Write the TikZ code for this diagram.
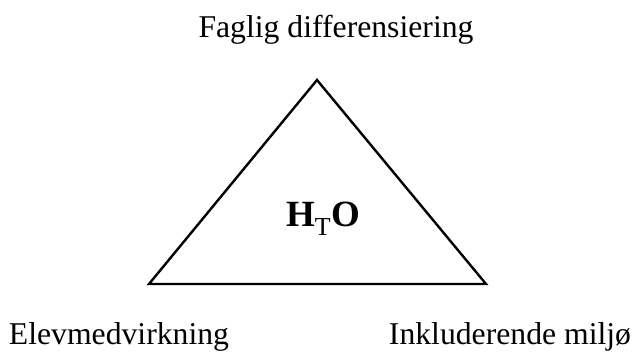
\documentclass[tikz,border=0pt]{standalone}
\usepackage{fontspec}
\setmainfont{Liberation Serif}
\usetikzlibrary{positioning}
\tikzset{
    cornerlabel/.style={inner sep=0pt, anchor=base, font=\fontsize{31.7}{36}\selectfont},
    centrelabel/.style={inner sep=0pt, anchor=base, font=\fontsize{37}{42}\selectfont},
    edge/.style={line width=2.4pt, line join=miter}
}
\begin{document}
\begin{tikzpicture}[x=1pt, y=1pt, node distance=1cm]
  \useasboundingbox (0,0) rectangle (636,352);
  \coordinate(T) at (317,272);
  \coordinate(L) at (149,68);
  \coordinate(R) at (486,68);
  \node(Top)[cornerlabel] at (336,314){Faglig differensiering};
  \node(Left)[cornerlabel] at (119,7){Elevmedvirkning};
  \node(Right)[cornerlabel] at (510,7){Inkluderende milj\o};
  \node(Mid)[centrelabel] at (323,125){\textbf{H}\textsubscript{T}\textbf{O}};
  \draw[edge](T)--(R)--(L)--cycle;
\end{tikzpicture}
\end{document}
